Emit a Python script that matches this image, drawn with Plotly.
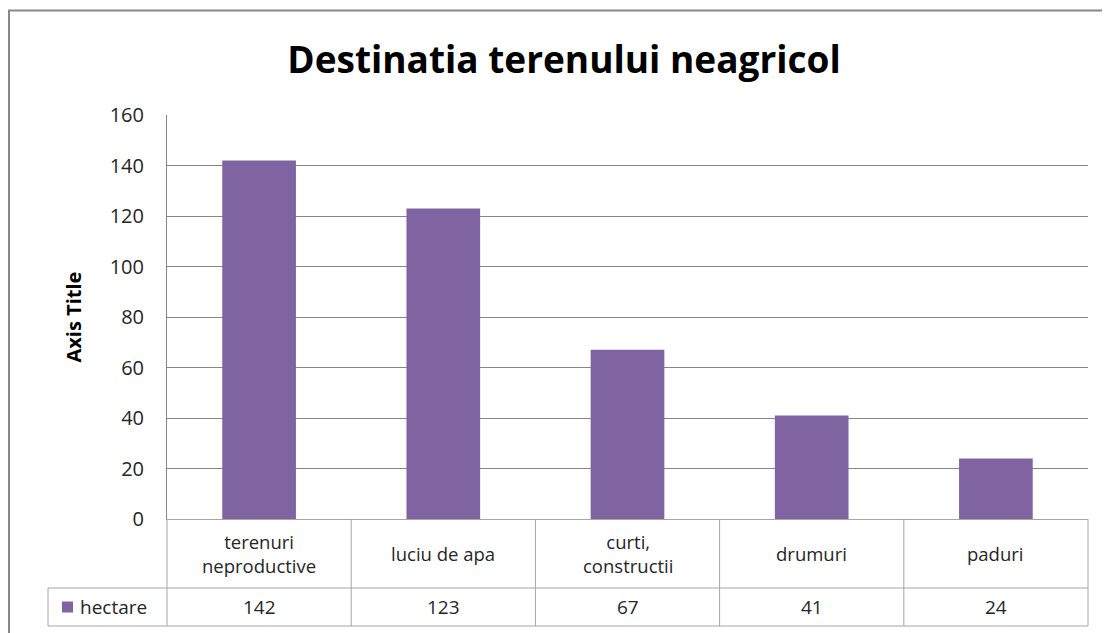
import plotly.graph_objects as go

# Data
categories = ["terenuri<br>neproductive", "luciu de apa", "curti,<br>constructii", "drumuri", "paduri"]
hectare = [142, 123, 67, 41, 24]
series_name = "hectare"
y_ticks = [0, 20, 40, 60, 80, 100, 120, 140, 160]

# the page body has an 8px margin, so work in screen pixels and shift
OFF = 8
W, H = 1110 - OFF, 633 - OFF
L, R, T, B = 167 - OFF, 1088 - OFF, 115 - OFF, 519 - OFF   # plot area
PW, PH = R - L, B - T

BAR = "#8064A2"
GRID = "#868686"
TBL = "#A6A6A6"
FONT = "Open Sans"
TXT = "#262626"


def px_x(sx):
    return (sx - OFF - L) / PW


def px_y(sy):
    return (B - (sy - OFF)) / PH


fig = go.Figure()
fig.add_trace(go.Bar(
    x=list(range(len(categories))),
    y=hectare,
    name=series_name,
    marker=dict(color=BAR, line=dict(width=0)),
    width=0.4,
))

shapes = []
n = len(categories)
row1_bot, row2_bot = 588, 626   # screen px
leg_left = 48
row2_mid = (row1_bot + row2_bot) / 2

# vertical lines of the data table
for i in range(n + 1):
    shapes.append(dict(type="line", xref="paper", yref="paper",
                       x0=i / n, x1=i / n, y0=0, y1=px_y(row2_bot),
                       line=dict(color=TBL, width=1)))
# horizontal lines
for yy in (row1_bot, row2_bot):
    shapes.append(dict(type="line", xref="paper", yref="paper",
                       x0=px_x(leg_left), x1=1, y0=px_y(yy), y1=px_y(yy),
                       line=dict(color=TBL, width=1)))
shapes.append(dict(type="line", xref="paper", yref="paper",
                   x0=px_x(leg_left), x1=px_x(leg_left), y0=px_y(row1_bot), y1=px_y(row2_bot),
                   line=dict(color=TBL, width=1)))
# legend key in the table
shapes.append(dict(type="rect", xref="paper", yref="paper",
                   x0=px_x(62), x1=px_x(73), y0=px_y(row2_mid - 5.5), y1=px_y(row2_mid + 5.5),
                   fillcolor=BAR, line=dict(width=0)))
# outer chart border
shapes.append(dict(type="rect", xref="paper", yref="paper",
                   x0=px_x(9), x1=px_x(1130), y0=px_y(10.5), y1=px_y(660),
                   line=dict(color="#878787", width=2), layer="below"))

annotations = []
for i, (c, v) in enumerate(zip(categories, hectare)):
    annotations.append(dict(x=i, xref="x", y=px_y((519 + row1_bot) / 2), yref="paper",
                            text=c, showarrow=False, yanchor="middle",
                            font=dict(family=FONT, size=18.5, color=TXT)))
    annotations.append(dict(x=i, xref="x", y=px_y(row2_mid), yref="paper",
                            text=str(v), showarrow=False, yanchor="middle",
                            font=dict(family=FONT, size=19, color=TXT)))
annotations.append(dict(x=px_x(78), xref="paper", xanchor="left",
                        y=px_y(row2_mid), yref="paper",
                        text=series_name, showarrow=False, yanchor="middle",
                        font=dict(family=FONT, size=19, color=TXT)))
annotations.append(dict(x=px_x(57), xref="paper", y=0.5, yref="paper",
                        text="<b>Axis Title</b>", textangle=-90, showarrow=False,
                        font=dict(family=FONT, size=20, color="#000000")))

fig.update_layout(
    width=W, height=H,
    margin=dict(l=L, r=W - R, t=T, b=H - B, pad=0),
    paper_bgcolor="white", plot_bgcolor="white",
    title=dict(text="<b>Destinatia terenului neagricol</b>", x=(564 - OFF) / W, xanchor="center",
               y=1 - (60 - OFF) / H, yanchor="middle",
               font=dict(family=FONT, size=37, color="#000000")),
    showlegend=False,
    shapes=shapes,
    annotations=annotations,
    bargap=0.6,
)
fig.update_xaxes(range=[-0.5, n - 0.5], showticklabels=False, showgrid=False,
                 zeroline=False, showline=True, linecolor=TBL, linewidth=1,
                 ticks="", fixedrange=True)
fig.update_yaxes(range=[0, 160], tickvals=y_ticks, showgrid=True, gridcolor=GRID, gridwidth=1,
                 zeroline=False, showline=True, linecolor=GRID, linewidth=1,
                 ticks="", ticklabelstandoff=18,
                 tickfont=dict(family=FONT, size=20, color=TXT))

fig.write_html("out.html")
